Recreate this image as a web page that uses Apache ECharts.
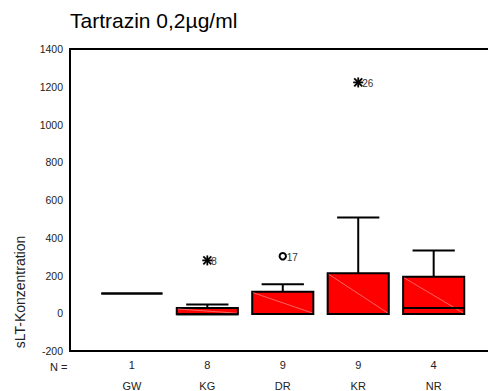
<!DOCTYPE html>
<html>
<head>
<meta charset="utf-8">
<script src="https://cdn.jsdelivr.net/npm/echarts@6/dist/echarts.min.js"></script>
<style>
html,body{margin:0;padding:0;background:#fff;}
#chart{width:488px;height:391px;}
</style>
</head>
<body>
<div id="chart"></div>
<script>
// ---- data ----
const categories = ['GW', 'KG', 'DR', 'KR', 'NR'];
const counts = [1, 8, 9, 9, 4];
const mins = [105, -5, -4, -4, -4];
const q1s = [105, -5, -4, -4, -4];
const medians = [105, -5, -4, -4, 28];
const q3s = [105, 28, 114, 212, 193];
const maxs = [105, 47, 154, 507, 332];

const outlierPos = [2, 3, 4];          // category position (1-based)
const outlierVals = [280, 302, 1223];
const outlierIds = ['8', '17', '26'];
const outlierKinds = ['extreme', 'outlier', 'extreme'];

const yTicks = [-200, 0, 200, 400, 600, 800, 1000, 1200, 1400];

const boxData = categories.map((c, i) => [i + 1, mins[i], q1s[i], medians[i], q3s[i], maxs[i]]);
const outlierData = outlierPos.map((p, i) => [p, outlierVals[i]]);

const FONT = '"Liberation Sans", Arial, sans-serif';
const chart = echarts.init(document.getElementById('chart'), null, { renderer: 'svg' });

function renderBox(params, api) {
  const x = api.value(0);
  const lo = api.value(1), q1 = api.value(2), med = api.value(3), q3 = api.value(4), hi = api.value(5);
  const bw = api.size([1, 0])[0];
  const boxW = bw * 0.81, capW = bw * 0.56;
  const pLo = api.coord([x, lo]), pQ1 = api.coord([x, q1]), pMed = api.coord([x, med]);
  const pQ3 = api.coord([x, q3]), pHi = api.coord([x, hi]);
  const cx = pQ1[0];
  const ls = { stroke: '#000', lineWidth: 2 };
  const children = [];
  if (hi > q3) {
    children.push({ type: 'line', shape: { x1: cx, y1: pQ3[1], x2: cx, y2: pHi[1] }, style: ls });
    children.push({ type: 'line', shape: { x1: cx - capW / 2, y1: pHi[1], x2: cx + capW / 2, y2: pHi[1] }, style: ls });
  }
  if (lo < q1) {
    children.push({ type: 'line', shape: { x1: cx, y1: pQ1[1], x2: cx, y2: pLo[1] }, style: ls });
    children.push({ type: 'line', shape: { x1: cx - capW / 2, y1: pLo[1], x2: cx + capW / 2, y2: pLo[1] }, style: ls });
  }
  const h = pQ1[1] - pQ3[1];
  children.push({ type: 'rect', shape: { x: cx - boxW / 2, y: pQ3[1], width: boxW, height: h },
    style: { fill: '#ff0000', stroke: '#000', lineWidth: 2 } });
  if (h > 4) {
    children.push({ type: 'line', shape: { x1: cx - boxW / 2 + 1, y1: pQ3[1] + 1, x2: cx + boxW / 2 - 1, y2: pQ1[1] - 1 },
      style: { stroke: 'rgba(255,160,160,0.9)', lineWidth: 0.7 } });
  }
  children.push({ type: 'line', shape: { x1: cx - boxW / 2, y1: pMed[1], x2: cx + boxW / 2, y2: pMed[1] }, style: ls });
  return { type: 'group', children: children };
}

function renderOutlier(params, api) {
  const p = api.coord([api.value(0), api.value(1)]);
  const i = params.dataIndex;
  const children = [];
  const ls = { stroke: '#000', lineWidth: 1.8 };
  if (outlierKinds[i] === 'extreme') {
    const r = 5;
    const d = r * 0.8;
    children.push({ type: 'line', shape: { x1: p[0] - r, y1: p[1], x2: p[0] + r, y2: p[1] }, style: ls });
    children.push({ type: 'line', shape: { x1: p[0], y1: p[1] - r, x2: p[0], y2: p[1] + r }, style: ls });
    children.push({ type: 'line', shape: { x1: p[0] - d, y1: p[1] - d, x2: p[0] + d, y2: p[1] + d }, style: ls });
    children.push({ type: 'line', shape: { x1: p[0] - d, y1: p[1] + d, x2: p[0] + d, y2: p[1] - d }, style: ls });
  } else {
    children.push({ type: 'circle', shape: { cx: p[0], cy: p[1], r: 3.2 }, style: { fill: '#fff', stroke: '#000', lineWidth: 2 } });
  }
  children.push({ type: 'text', style: { text: outlierIds[i], x: p[0] + 4, y: p[1] + 1, fill: '#333',
    font: '10px ' + FONT, verticalAlign: 'middle', align: 'left' } });
  return { type: 'group', children: children };
}

const option = {
  animation: false,
  backgroundColor: '#fff',
  title: [
    { text: 'Tartrazin 0,2µg/ml', left: 70, top: 10, padding: 0,
      textStyle: { fontFamily: FONT, fontSize: 21, fontWeight: 'normal', color: '#000' } },
    { text: 'N =', left: 50, top: 361, padding: 0,
      textStyle: { fontFamily: FONT, fontSize: 11, fontWeight: 'normal', color: '#222' } }
  ],
  graphic: [
    { type: 'text', x: 20, y: 292, rotation: Math.PI / 2,
      style: { text: 'sLT-Konzentration', fill: '#222', font: '14px ' + FONT,
        align: 'center', verticalAlign: 'middle' } }
  ],
  grid: { left: 70, right: 0, top: 49, bottom: 37 },
  xAxis: [
    {
      type: 'value', min: 0.18, max: 5.72, position: 'bottom',
      axisLine: { show: true, onZero: false, lineStyle: { color: '#000', width: 2 } },
      axisTick: { show: false },
      splitLine: { show: false },
      axisLabel: {
        customValues: categories.map((c, i) => i + 1),
        margin: 3,
        formatter: function (v) {
          const i = Math.round(v) - 1;
          return '{n|' + counts[i] + '}\n{c|' + categories[i] + '}';
        },
        rich: {
          n: { fontSize: 11, lineHeight: 21, color: '#222', fontFamily: FONT },
          c: { fontSize: 11, lineHeight: 21, color: '#222', fontFamily: FONT }
        }
      }
    },
    {
      type: 'value', min: 0.18, max: 5.72, position: 'top',
      axisLine: { show: true, onZero: false, lineStyle: { color: '#000', width: 2 } },
      axisTick: { show: false }, axisLabel: { show: false }, splitLine: { show: false }
    }
  ],
  yAxis: {
    type: 'value', min: -200, max: 1400, interval: 200,
    axisLine: { show: true, onZero: false, lineStyle: { color: '#000', width: 2 } },
    axisTick: { show: false },
    splitLine: { show: false },
    axisLabel: {
      customValues: yTicks,
      formatter: function (v) { return String(v); },
      margin: 7, fontSize: 10.5, color: '#222',
      fontFamily: FONT
    }
  },
  series: [
    {
      type: 'custom', name: 'box', renderItem: renderBox, data: boxData,
      encode: { x: 0, y: [1, 2, 3, 4, 5] }, clip: false
    },
    {
      type: 'custom', name: 'outliers', renderItem: renderOutlier, data: outlierData,
      encode: { x: 0, y: 1 }, clip: false
    }
  ]
};
chart.setOption(option);
</script>
</body>
</html>
